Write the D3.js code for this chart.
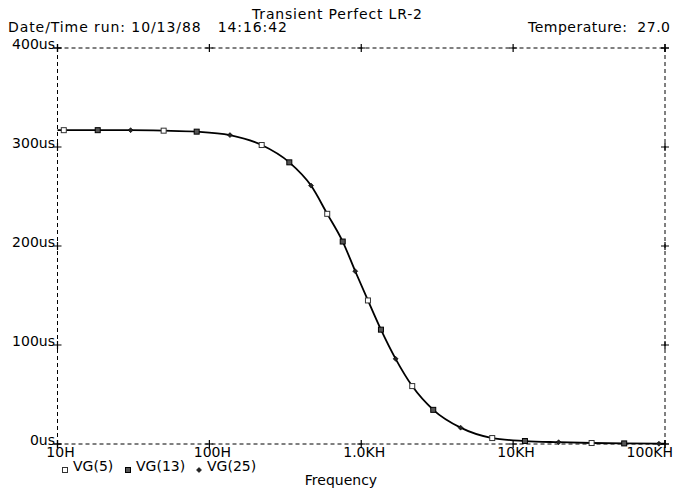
<!DOCTYPE html>
<html>
<head>
<meta charset="utf-8">
<script src="https://cdn.jsdelivr.net/npm/d3@7"></script>
<style>
  body { margin: 0; background: #fff; }
  text { font-family: "DejaVu Sans", sans-serif; fill: #000; }
</style>
</head>
<body>
<script>
var width = 675,
    height = 491;

// tick values and labels
var xTicks = [10, 100, 1000, 10000, 100000];
var xTickLabels = ["10H", "100H", "1.0KH", "10KH", "100KH"];
var yTicks = [0, 100, 200, 300, 400];
var yTickLabels = ["0us", "100us", "200us", "300us", "400us"];

// three traces (Hz, us)
var seriesNames = ["VG(5)", "VG(13)", "VG(25)"];
var freq5 = [11, 50, 221, 597, 1107, 2166, 7285, 32870];
var delay5 = [317, 316.5, 302, 232.5, 145, 58.5, 6, 1];
var freq13 = [18.4, 82.5, 336, 755, 1348, 2979, 11960, 53870];
var delay13 = [317, 315.5, 284.5, 204.5, 115.5, 34.5, 3, 0.6];
var freq25 = [30.3, 136.6, 467, 913, 1684, 4510, 19930, 91200];
var delay25 = [317, 312, 261, 174.5, 86, 16.5, 1.8, 0.3];
// where the curve meets the plot edges
var edgeFreq = [10, 100000];
var edgeDelay = [317, 0.3];

var svg = d3.select("body").append("svg")
    .attr("width", width)
    .attr("height", height)

var x = d3.scaleLog().domain([10, 100000]).range([57.5, 665]);
var y = d3.scaleLinear().domain([0, 400]).range([444, 48]);

/* header texts, stretched to the widths of the plotter font */
svg.append("text").attr("x", 252).attr("y", 19)
    .attr("font-size", 14).attr("textLength", 170).attr("lengthAdjust", "spacing")
    .text("Transient Perfect LR-2")
svg.append("text").attr("x", 8).attr("y", 32)
    .attr("font-size", 14).attr("xml:space", "preserve")
    .attr("textLength", 279).attr("lengthAdjust", "spacing")
    .text("Date/Time run: 10/13/88   14:16:42")
svg.append("text").attr("x", 528).attr("y", 32)
    .attr("font-size", 14).attr("xml:space", "preserve")
    .attr("textLength", 142).attr("lengthAdjust", "spacing")
    .text("Temperature:  27.0")

/* dashed frame */
var frame = svg.append("g")
    .attr("stroke", "#000")
    .attr("stroke-width", 1)
    .attr("stroke-dasharray", "4,3")
    .attr("fill", "none")
frame.append("line").attr("x1", x(10)).attr("x2", x(100000)).attr("y1", y(400)).attr("y2", y(400))
frame.append("line").attr("x1", x(10)).attr("x2", x(100000)).attr("y1", y(0)).attr("y2", y(0))
frame.append("line").attr("x1", x(10)).attr("x2", x(10)).attr("y1", y(400)).attr("y2", y(0) + 4)
frame.append("line").attr("x1", x(100000)).attr("x2", x(100000)).attr("y1", y(400)).attr("y2", y(0))

/* "+" tick marks on all four sides */
var crosses = [];
xTicks.forEach(function (t) {
    crosses.push([x(t), y(400)]);
    crosses.push([x(t), y(0)]);
});
yTicks.forEach(function (t) {
    crosses.push([x(10), y(t)]);
    crosses.push([x(100000), y(t)]);
});
svg.append("g").selectAll("path")
    .data(crosses)
    .enter().append("path")
    .attr("d", function (d) {
        return "M" + (d[0] - 4) + "," + d[1] + "h8M" + d[0] + "," + (d[1] - 4) + "v8"
    })
    .attr("stroke", "#000")
    .attr("stroke-width", 1.2)

/* axis labels */
svg.append("g").selectAll("text")
    .data(xTicks)
    .enter().append("text")
    .attr("x", function (d, i) {
        return i == xTicks.length - 1 ? 673 : x(d) + 3
    })
    .attr("y", 457)
    .attr("text-anchor", function (d, i) {
        return i == xTicks.length - 1 ? "end" : "middle"
    })
    .attr("font-size", 14)
    .text(function (d, i) { return xTickLabels[i] })

svg.append("g").selectAll("text")
    .data(yTicks)
    .enter().append("text")
    .attr("x", 55)
    .attr("y", function (d) { return y(d) + 1 })
    .attr("text-anchor", "end")
    .attr("font-size", 14)
    .text(function (d, i) { return yTickLabels[i] })

svg.append("text").attr("x", 341).attr("y", 485)
    .attr("text-anchor", "middle").attr("font-size", 14)
    .text("Frequency")

/* curve through every trace point */
var traces = [
    { name: seriesNames[0], freq: freq5, delay: delay5 },
    { name: seriesNames[1], freq: freq13, delay: delay13 },
    { name: seriesNames[2], freq: freq25, delay: delay25 }
];
var pts = [];
traces.forEach(function (s, k) {
    s.freq.forEach(function (f, i) {
        pts.push({ f: f, v: s.delay[i], k: k });
    });
});
edgeFreq.forEach(function (f, i) { pts.push({ f: f, v: edgeDelay[i], k: -1 }) });
pts.sort(function (a, b) { return a.f - b.f });

var line = d3.line()
    .x(function (d) { return x(d.f) })
    .y(function (d) { return y(d.v) })
    .curve(d3.curveMonotoneX)

svg.append("path")
    .datum(pts)
    .attr("d", line)
    .attr("fill", "none")
    .attr("stroke", "#000")
    .attr("stroke-width", 1.8)

/* markers */
function marker(g, k) {
    if (k == 0) {
        g.append("rect").attr("x", -2.5).attr("y", -2.5).attr("width", 5).attr("height", 5)
            .attr("fill", "#fff").attr("stroke", "#333").attr("stroke-width", 1)
    } else if (k == 1) {
        g.append("rect").attr("x", -2.5).attr("y", -2.5).attr("width", 5).attr("height", 5)
            .attr("fill", "#555").attr("stroke", "#000").attr("stroke-width", 1)
    } else {
        g.append("path").attr("d", "M0,-2.5L2.5,0L0,2.5L-2.5,0Z")
            .attr("fill", "#222").attr("stroke", "#000").attr("stroke-width", 0.6)
    }
}

svg.append("g").selectAll("g")
    .data(pts.filter(function (d) { return d.k >= 0 }))
    .enter().append("g")
    .attr("transform", function (d) {
        return "translate(" + x(d.f) + "," + y(d.v) + ")"
    })
    .each(function (d) { marker(d3.select(this), d.k) })

/* legend */
var legX = [65, 128, 199];
var legend = svg.append("g").selectAll("g")
    .data(traces)
    .enter().append("g")
    .attr("transform", function (d, i) {
        return "translate(" + legX[i] + ",470)"
    })
legend.each(function (d, i) { marker(d3.select(this), i) })
legend.append("text")
    .attr("x", 8)
    .attr("y", 1)
    .attr("font-size", 14)
    .text(function (d) { return d.name })
</script>
</body>
</html>
